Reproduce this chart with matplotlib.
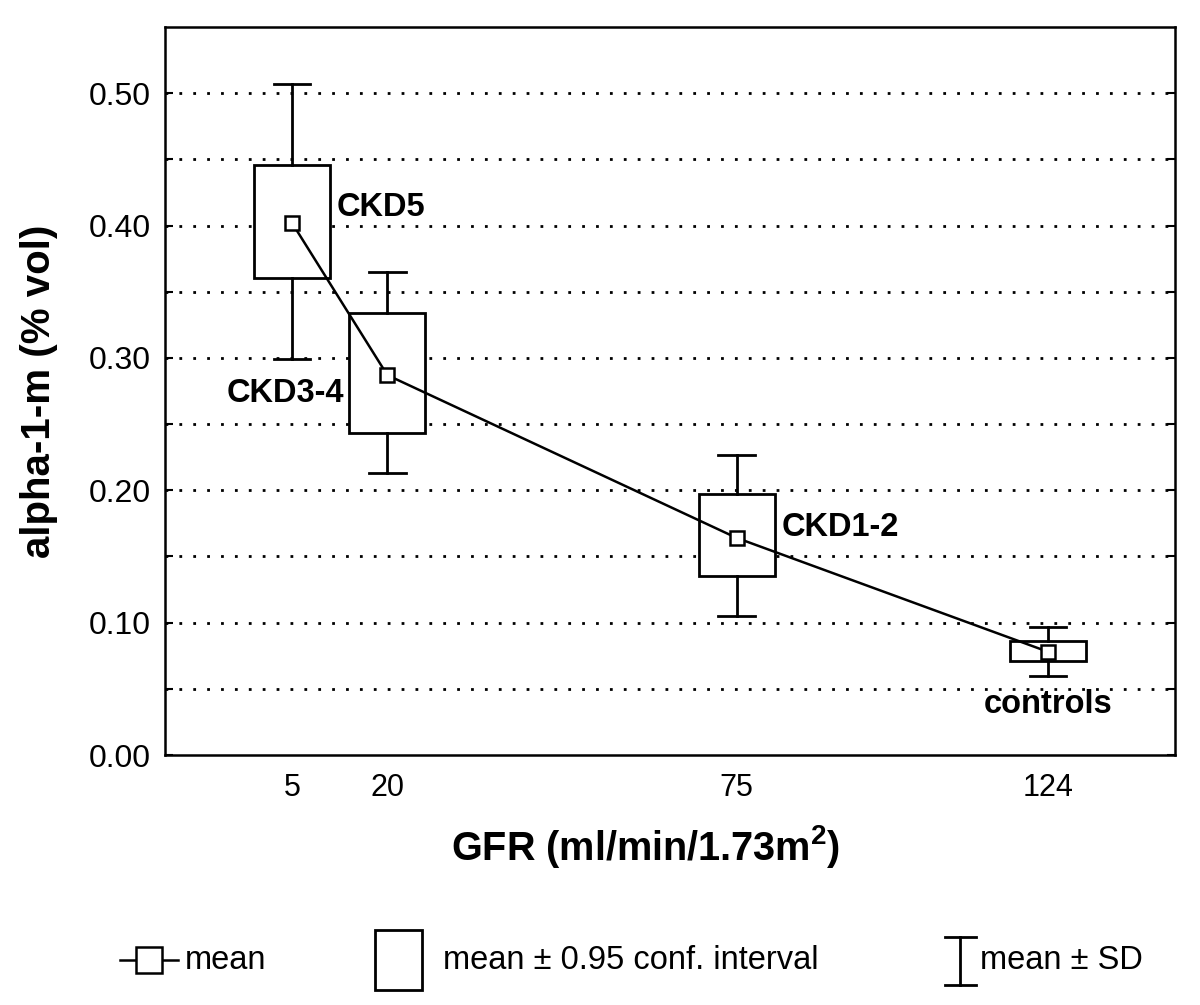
import matplotlib
matplotlib.use("Agg")
import matplotlib.pyplot as plt
from matplotlib.patches import Rectangle
import numpy as np

# values
groups = ["CKD5", "CKD3-4", "CKD1-2", "controls"]
gfr = [5, 20, 75, 124]
mean = [0.402, 0.287, 0.164, 0.078]
ci_low = [0.360, 0.243, 0.135, 0.071]
ci_high = [0.446, 0.334, 0.197, 0.086]
sd_low = [0.299, 0.213, 0.105, 0.060]
sd_high = [0.507, 0.365, 0.227, 0.097]

# label placement (offset pixels from the mean point) and alignment
label_offsets = [(45, 15), (-43, -18), (45, 10), (0, -53)]
label_ha = ["left", "right", "left", "center"]

plt.rcParams["font.family"] = ["Liberation Sans", "DejaVu Sans"]

box_w = 12.0
cap_w = 5.8

fig = plt.figure(figsize=(12, 10.05), dpi=100)
ax = fig.add_axes([165 / 1200, 1 - 755 / 1005, 1010 / 1200, 728 / 1005])
ax.set_xlim(-15, 144)
ax.set_ylim(0, 0.55)

# dotted grid
for yv in np.arange(0.05, 0.51, 0.05):
    ax.axhline(yv, color="black", lw=2, ls=(0, (1, 4)), zorder=1)

for x, m, cl, ch, sl, sh in zip(gfr, mean, ci_low, ci_high, sd_low, sd_high):
    ax.add_patch(Rectangle((x - box_w / 2, cl), box_w, ch - cl, facecolor="white",
                           edgecolor="black", lw=2, zorder=2))
    ax.plot([x, x], [ch, sh], color="black", lw=2, zorder=2)
    ax.plot([x, x], [sl, cl], color="black", lw=2, zorder=2)
    ax.plot([x - cap_w / 2, x + cap_w / 2], [sh, sh], color="black", lw=2, zorder=2)
    ax.plot([x - cap_w / 2, x + cap_w / 2], [sl, sl], color="black", lw=2, zorder=2)

ax.plot(gfr, mean, color="black", lw=1.8, marker="s", markersize=10,
        markerfacecolor="white", markeredgecolor="black", markeredgewidth=1.8, zorder=3)

for g, x, m, off, ha in zip(groups, gfr, mean, label_offsets, label_ha):
    ax.annotate(g, (x, m), xytext=off, textcoords="offset pixels", ha=ha, va="center",
                fontsize=23.5, fontweight="bold", zorder=4)

ax.set_yticks(np.arange(0, 0.51, 0.1))
ax.set_yticklabels([f"{v:.2f}" for v in np.arange(0, 0.51, 0.1)], fontsize=23)
ax.set_yticks(np.arange(0.05, 0.55, 0.1), minor=True)
ax.tick_params(axis="y", which="both", direction="in", length=6, width=1.5,
               right=True, pad=10)
ax.set_xticks(gfr)
ax.set_xticklabels([str(v) for v in gfr], fontsize=22)
ax.tick_params(axis="x", length=0, pad=13)
for s in ax.spines.values():
    s.set_linewidth(1.8)

ax.set_xlabel("GFR (ml/min/1.73m$^\\mathregular{2}$)", fontsize=28.5, fontweight="bold")
ax.xaxis.set_label_coords(0.476, -0.094)
ax.set_ylabel("alpha-1-m (% vol)", fontsize=29, fontweight="bold", labelpad=22)

# legend drawn in pixel-like coordinates
lg = fig.add_axes([0, 0, 1, 120 / 1005])
lg.set_xlim(0, 1200)
lg.set_ylim(0, 120)
lg.axis("off")
yc = 45
lg.plot([120, 178], [yc, yc], color="black", lw=1.8)
lg.plot([149], [yc], marker="s", markersize=19, markerfacecolor="white",
        markeredgecolor="black", markeredgewidth=1.8)
lg.text(185, yc, "mean", fontsize=23.5, va="center")
lg.add_patch(Rectangle((375, 15), 47, 60, facecolor="white", edgecolor="black", lw=2))
lg.text(443, yc, "mean ± 0.95 conf. interval", fontsize=23.5, va="center")
lg.plot([960, 960], [20, 68], color="black", lw=2)
lg.plot([945, 976], [68, 68], color="black", lw=2)
lg.plot([945, 976], [20, 20], color="black", lw=2)
lg.text(980, yc, "mean ± SD", fontsize=23.5, va="center")

fig.savefig("out.png", dpi=100)
